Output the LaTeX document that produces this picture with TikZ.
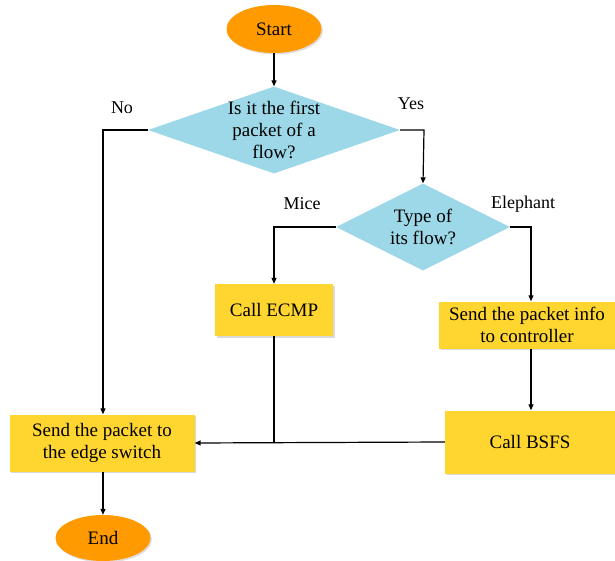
\documentclass[tikz,border=0pt]{standalone}
\usepackage{fontspec}
\setmainfont{Liberation Serif}
\usetikzlibrary{shapes.geometric,arrows.meta,shadows}
\definecolor{ovalc}{HTML}{FF9A00}
\definecolor{diac}{HTML}{9DD8E8}
\definecolor{boxc}{HTML}{FFD630}
\begin{document}
\begin{tikzpicture}[x=1pt,y=-1pt,
  every node/.style={font=\fontsize{19}{22}\selectfont, inner sep=0pt},
  oval/.style={ellipse, fill=ovalc, minimum width=95pt, minimum height=48pt,
     drop shadow={opacity=0.25, shadow xshift=1.5pt, shadow yshift=-1.5pt}},
  dia/.style={diamond, fill=diac, align=center},
  box/.style={rectangle, fill=boxc, align=center,
     drop shadow={opacity=0.3, shadow xshift=1.5pt, shadow yshift=-1.5pt}},
  conn/.style={draw=black, line width=1.2pt},
  arr/.style={conn, -{Triangle[length=6pt,width=5pt]}},
  lbl/.style={font=\fontsize{18}{21}\selectfont}]
\useasboundingbox (0,0) rectangle (615,561);
\node[oval] (start) at (274,29) {Start};
\node[dia, minimum width=252pt, minimum height=87pt] (d1) at (274,130) {};
\node[align=center] at (274,130) {Is it the first\\packet of a\\flow?};
\node[dia, minimum width=174pt, minimum height=87pt] (d2) at (423,227) {};
\node[align=center] at (423,227) {Type of\\its flow?};
\node[box, minimum width=118pt, minimum height=52pt] (ecmp) at (274,310) {Call ECMP};
\node[box, minimum width=176pt, minimum height=47pt] (info) at (527,325) {Send the packet info\\to controller};
\node[box, minimum width=170pt, minimum height=63pt] (bsfs) at (530,442) {Call BSFS};
\node[box, minimum width=185pt, minimum height=57pt] (send) at (102,443) {Send the packet to\\the edge switch};
\node[oval, minimum height=46pt] (end) at (103,538) {End};

\node[lbl] at (122,108) {No};
\node[lbl] at (411,104) {Yes};
\node[lbl] at (302,204) {Mice};
\node[lbl] at (523,204) {Elephant};

\coordinate (c1) at (103,130);
\coordinate (c2) at (424,130);
\coordinate (c3) at (274,227);
\coordinate (c4) at (531,227);
\coordinate (j) at (274,443);

\draw[arr] (start) -- (d1.north);
\draw[arr] (d1.west) -- (c1) -- (send.north -| c1);
\draw[arr] (d1.east) -- (c2) -- (d2.north);
\draw[arr] (d2.west) -- (c3) -- (ecmp.north);
\draw[arr] (d2.east) -- (c4) -- (info.north -| c4);
\draw[arr] (info.south -| c4) -- (bsfs.north -| c4);
\draw[arr] (bsfs.west) -- (send.east);
\draw[conn] (ecmp.south) -- (j);
\draw[arr] (send.south -| end) -- (end.north);
\end{tikzpicture}
\end{document}
